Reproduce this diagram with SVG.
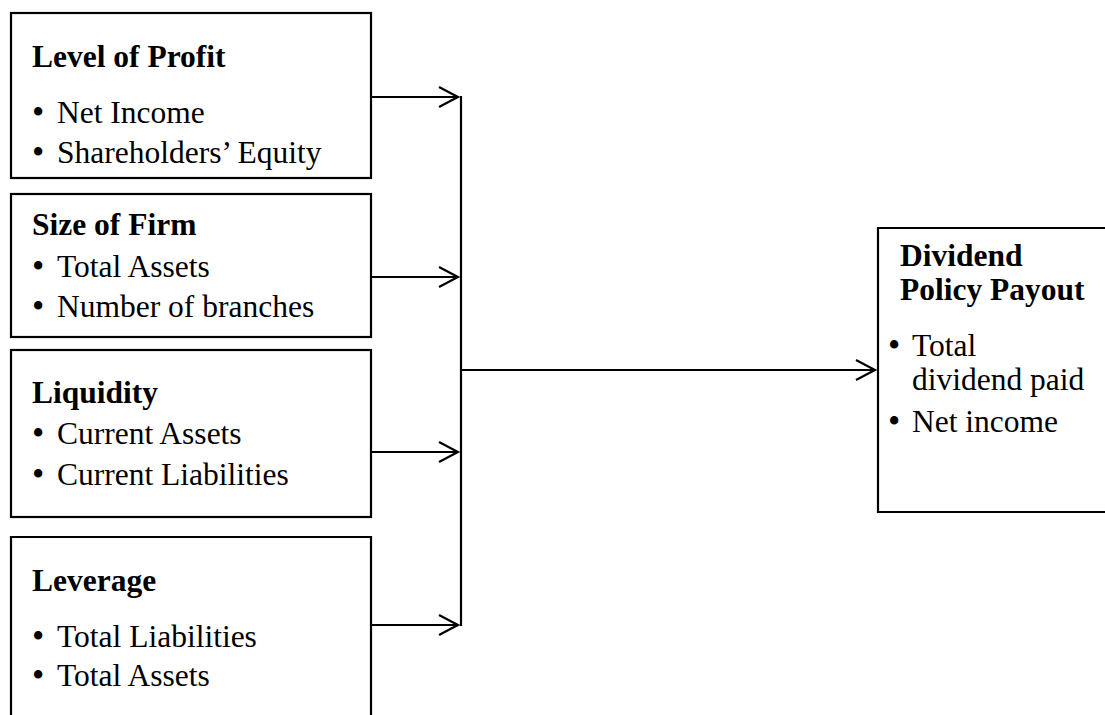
<svg xmlns="http://www.w3.org/2000/svg" width="1105" height="715" viewBox="0 0 1105 715">
<defs>
<style>
.box{fill:#fff;stroke:#000;stroke-width:2.2}
.t{font-family:"Liberation Serif","Times New Roman",serif;font-size:31.5px;fill:#000}
.b{font-weight:bold}
.bl{font-size:35px}
.c{fill:none;stroke:#000;stroke-width:2.2}
</style>
<marker id="ah" markerWidth="24" markerHeight="24" refX="21" refY="12" orient="auto" markerUnits="userSpaceOnUse" viewBox="0 0 24 24">
<path d="M2 2 L21 12 L2 22" fill="none" stroke="#000" stroke-width="2.2"/>
</marker>
</defs>
<rect width="1105" height="715" fill="#fff"/>
<g id="n1">
<rect class="box" x="11" y="13" width="360" height="165"/>
<text class="t b" x="32" y="67">Level of Profit</text>
<text class="t" x="32" y="123"><tspan class="bl" dy="1">•</tspan><tspan x="57" dy="-1">Net Income</tspan></text>
<text class="t" x="32" y="163"><tspan class="bl" dy="1">•</tspan><tspan x="57" dy="-1">Shareholders’ Equity</tspan></text>
</g>
<g id="n2">
<rect class="box" x="11" y="194" width="360" height="143"/>
<text class="t b" x="32" y="235">Size of Firm</text>
<text class="t" x="32" y="277"><tspan class="bl" dy="1">•</tspan><tspan x="57" dy="-1">Total Assets</tspan></text>
<text class="t" x="32" y="317"><tspan class="bl" dy="1">•</tspan><tspan x="57" dy="-1">Number of branches</tspan></text>
</g>
<g id="n3">
<rect class="box" x="11" y="350" width="360" height="167"/>
<text class="t b" x="32" y="403">Liquidity</text>
<text class="t" x="32" y="444"><tspan class="bl" dy="1">•</tspan><tspan x="57" dy="-1">Current Assets</tspan></text>
<text class="t" x="32" y="485"><tspan class="bl" dy="1">•</tspan><tspan x="57" dy="-1">Current Liabilities</tspan></text>
</g>
<g id="n4">
<path class="c" d="M11 720 V537 H371 V720"/>
<text class="t b" x="32" y="591">Leverage</text>
<text class="t" x="32" y="647"><tspan class="bl" dy="1">•</tspan><tspan x="57" dy="-1">Total Liabilities</tspan></text>
<text class="t" x="32" y="686"><tspan class="bl" dy="1">•</tspan><tspan x="57" dy="-1">Total Assets</tspan></text>
</g>
<g id="n5">
<path class="c" d="M1110 228 H878 V512 H1110"/>
<text class="t b" x="900" y="266">Dividend</text>
<text class="t b" x="900" y="300">Policy Payout</text>
<text class="t" x="888" y="356"><tspan class="bl" dy="1">•</tspan><tspan x="912" dy="-1">Total</tspan></text>
<text class="t" x="912" y="390">dividend paid</text>
<text class="t" x="888" y="432"><tspan class="bl" dy="1">•</tspan><tspan x="912" dy="-1">Net income</tspan></text>
</g>
<g id="connectors">
<path class="c" d="M461 96 V626"/>
<path class="c" d="M371 97 H458" marker-end="url(#ah)"/>
<path class="c" d="M371 277 H458" marker-end="url(#ah)"/>
<path class="c" d="M371 452 H458" marker-end="url(#ah)"/>
<path class="c" d="M371 625 H458" marker-end="url(#ah)"/>
<path class="c" d="M461 370 H875" marker-end="url(#ah)"/>
</g>
</svg>
